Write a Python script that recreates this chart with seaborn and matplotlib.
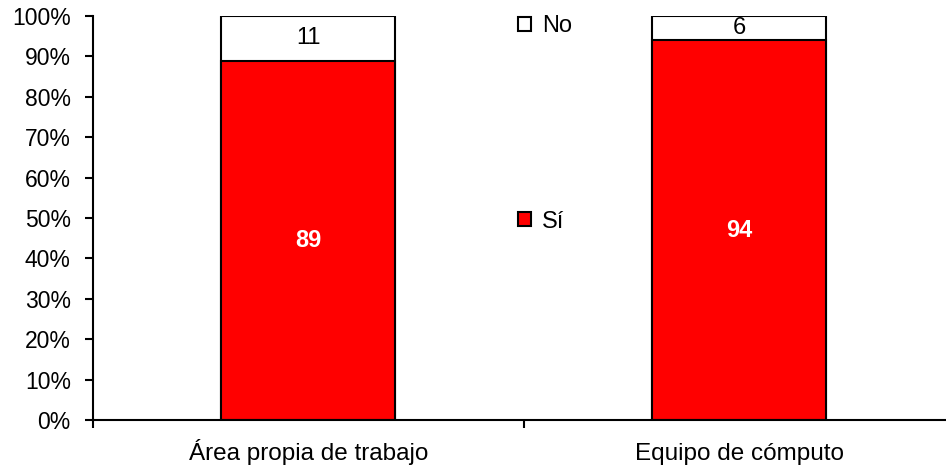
import pandas as pd
import numpy as np
import seaborn as sns
import matplotlib.pyplot as plt
from matplotlib.patches import Patch
from matplotlib.ticker import FixedLocator

categories = ['Área propia de trabajo', 'Equipo de cómputo']
si_values = [89, 94]
no_values = [11, 6]

sns.set_theme(style="white")
plt.rcParams['font.family'] = ['Liberation Sans', 'DejaVu Sans']
plt.rcParams['text.color'] = 'black'
plt.rcParams['xtick.color'] = 'black'
plt.rcParams['ytick.color'] = 'black'

df = pd.DataFrame({'cat': categories, 'si': si_values, 'no': no_values})
df['total'] = df['si'] + df['no']

fig = plt.figure(figsize=(9.46, 4.73), dpi=100)
# axis runs a bit past the right edge, as in the original
ax = fig.add_axes([0.0983, 0.112, 0.911, 0.854])

# white "No" part drawn full height behind the red "Sí" part
sns.barplot(data=df, x='cat', y='total', color='white', edgecolor='black',
            linewidth=1.5, width=0.404, ax=ax, saturation=1)
sns.barplot(data=df, x='cat', y='si', color='#ff0000', edgecolor='black',
            linewidth=1.5, width=0.404, ax=ax, saturation=1)

no_bars = ax.containers[0]
si_bars = ax.containers[1]
for bar, v in zip(no_bars, df['no']):
    top = bar.get_height()
    ax.text(bar.get_x() + bar.get_width() / 2, top - v / 2, str(v),
            ha='center', va='center', fontsize=17, color='black')
ax.bar_label(si_bars, labels=[str(v) for v in df['si']], label_type='center',
             color='white', fontsize=17, fontweight='bold')

ax.set_ylim(0, 100)
ax.set_xlim(-0.5, 1.5)
ax.set_yticks(np.arange(0, 101, 10))
ax.set_yticklabels([f'{t}%' for t in range(0, 101, 10)], fontsize=16.5)
ax.set_xticks([-0.5, 0.5, 1.5])
ax.set_xticklabels(['', '', ''])
ax.xaxis.set_minor_locator(FixedLocator([0, 1]))
ax.set_xticklabels(categories, minor=True, fontsize=17.5, va='baseline')
ax.tick_params(axis='x', which='minor', length=0, pad=29, bottom=True,
               labelcolor='black')
ax.tick_params(axis='both', which='major', direction='out', length=6,
               width=1.5, color='black', labelcolor='black',
               left=True, bottom=True)
ax.tick_params(axis='y', pad=10)
ax.set_xlabel('')
ax.set_ylabel('')

for s in ['top', 'right']:
    ax.spines[s].set_visible(False)
for s in ['left', 'bottom']:
    ax.spines[s].set_color('black')
    ax.spines[s].set_linewidth(1.5)

handles = [Patch(facecolor='white', edgecolor='black', linewidth=1.5, label='No'),
           Patch(facecolor='#ff0000', edgecolor='black', linewidth=1.5, label='Sí')]
leg = ax.legend(handles=handles, loc='upper left', bbox_to_anchor=(0.469, 1.055),
                frameon=False, fontsize=17, labelspacing=7.35,
                handlelength=0.55, handleheight=0.55, handletextpad=0.45,
                labelcolor='black')

fig.savefig('out.png', dpi=100)
